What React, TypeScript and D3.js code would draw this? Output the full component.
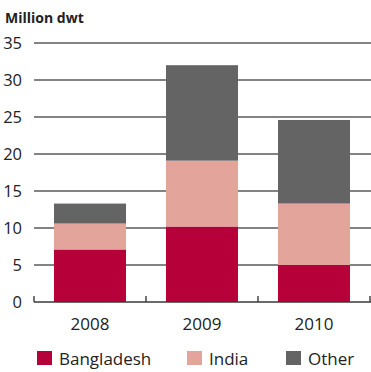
import React from "react";
import * as d3 from "d3";

const years = ["2008", "2009", "2010"];
const seriesNames = ["Bangladesh", "India", "Other"];
const bangladesh = [7.1, 10.2, 5.0];
const india = [3.5, 8.9, 8.3];
const other = [2.7, 12.9, 11.3];
const yTicks = [0, 5, 10, 15, 20, 25, 30, 35];
const colors = ["#b5003a", "#e3a59b", "#646464"];

export default function App() {
  const W = 371, H = 372;
  const x = d3.scaleBand<string>().domain(years).range([34, 370]).paddingInner(0.357).paddingOuter(0.1785);
  const y = d3.scaleLinear().domain([0, 35]).range([302, 43]);
  const rows = years.map((yr, i) => ({ year: yr, Bangladesh: bangladesh[i], India: india[i], Other: other[i] }));
  const stacked = d3.stack<any>().keys(seriesNames)(rows);
  const font = "'Open Sans', sans-serif";
  const step = x.step();
  const boundaries = [0, 1, 2, 3].map((i) => 34 + i * step);
  const legendX = [37, 187, 286];
  return (
    <svg width={W} height={H} style={{ position: "absolute", left: 0, top: 0 }} fontFamily={font}>
      <text x={5} y={23} fontSize={14} fontWeight={700} fill="#222">Million dwt</text>
      {yTicks.map((t) => (
        <g key={t}>
          {t > 0 && <line x1={34} x2={371} y1={y(t)} y2={y(t)} stroke="#5a5a5a" strokeWidth={1.6} />}
          <text x={22} y={y(t)} dy="0.35em" textAnchor="end" fontSize={16.5} fill="#222">{t}</text>
        </g>
      ))}
      {stacked.map((s, si) => (
        <g key={s.key} fill={colors[si]}>
          {s.map((d, i) => (
            <rect key={i} x={x(years[i])} width={x.bandwidth()} y={y(d[1])} height={y(d[0]) - y(d[1])} />
          ))}
        </g>
      ))}
      <line x1={34} x2={371} y1={y(0)} y2={y(0)} stroke="#3a3a3a" strokeWidth={1.4} />
      {boundaries.map((b, i) => (
        <line key={i} x1={b} x2={b} y1={y(0)} y2={y(0) - 6} stroke="#3a3a3a" strokeWidth={1.4} />
      ))}
      {years.map((yr) => (
        <text key={yr} x={(x(yr) as number) + x.bandwidth() / 2} y={330} textAnchor="middle" fontSize={17} fill="#222">{yr}</text>
      ))}
      {seriesNames.map((n, i) => (
        <g key={n}>
          <rect x={legendX[i]} y={351} width={15} height={14} fill={colors[i]} />
          <text x={legendX[i] + 22} y={365} fontSize={17} fill="#222">{n}</text>
        </g>
      ))}
    </svg>
  );
}
